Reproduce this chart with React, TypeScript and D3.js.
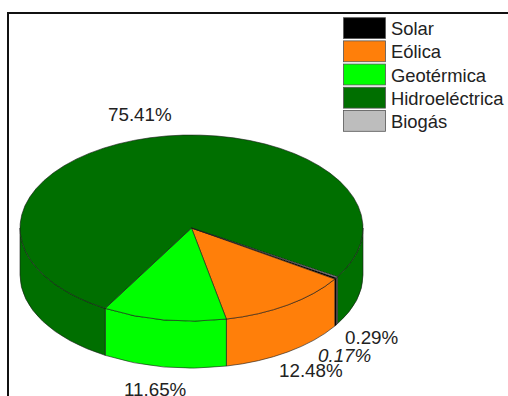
import React from "react";
import * as d3 from "d3";

const categories = ["Solar", "Eólica", "Geotérmica", "Hidroeléctrica", "Biogás"];
const shares = [0.29, 12.48, 11.65, 75.41, 0.17];
const colors = ["#000000", "#ff7f0a", "#00ff00", "#006f00", "#bdbdbd"];
const valueLabels = ["0.29%", "12.48%", "11.65%", "75.41%", "0.17%"];
const labelAnchors: [number, number][] = [
  [345, 344],
  [279, 377],
  [124, 395.5],
  [108, 121],
  [318, 362],
];

const W = 508;
const H = 396;
const cx = 191.5;
const cy = 228;
const rx = 171.5;
const ry = 93;
const depth = 47;
const rad = Math.PI / 180;

const pie = d3
  .pie<number>()
  .sort(null)
  .startAngle(122.3 * rad)
  .endAngle(482.3 * rad);
const slices = pie(shares);

// Angles run clockwise from twelve o'clock; y is squashed to give the tilted disc.
const px = (a: number) => cx + rx * Math.sin(a);
const py = (a: number, drop = 0) => cy - ry * Math.cos(a) + drop;

function topPath(a0: number, a1: number) {
  const large = a1 - a0 > Math.PI ? 1 : 0;
  return `M${cx},${cy}L${px(a0)},${py(a0)}A${rx},${ry} 0 ${large} 1 ${px(a1)},${py(a1)}Z`;
}

// Side wall of one slice, limited to the front half of the rim (90° to 270°).
function wallPaths(a0: number, a1: number) {
  const out: string[] = [];
  for (const k of [0, 1]) {
    const lo = Math.max(a0, Math.PI / 2 + k * 2 * Math.PI);
    const hi = Math.min(a1, (3 * Math.PI) / 2 + k * 2 * Math.PI);
    if (hi <= lo) continue;
    out.push(
      `M${px(lo)},${py(lo)}A${rx},${ry} 0 0 1 ${px(hi)},${py(hi)}` +
        `L${px(hi)},${py(hi, depth)}A${rx},${ry} 0 0 0 ${px(lo)},${py(lo, depth)}Z`
    );
  }
  return out;
}

const legendY = d3
  .scaleBand<string>()
  .domain(categories)
  .range([17, 132])
  .paddingInner(0.1)
  .paddingOuter(0.03);

export default function App() {
  const font = "'Liberation Sans', Arial, sans-serif";
  return (
    <svg
      width={W}
      height={H}
      viewBox={`0 0 ${W} ${H}`}
      style={{ position: "fixed", left: 0, top: 0, display: "block", background: "#fff" }}
      fontFamily={font}
    >
      <path d={`M8,${H}V13H${W}`} fill="none" stroke="#111" strokeWidth={2} />
      <g stroke="#1a1a1a" strokeWidth={0.6} strokeLinejoin="round">
        {slices.map((s, i) =>
          wallPaths(s.startAngle, s.endAngle).map((d, j) => (
            <path key={`w${i}-${j}`} d={d} fill={colors[i]} />
          ))
        )}
        {slices.map((s, i) => (
          <path key={`t${i}`} d={topPath(s.startAngle, s.endAngle)} fill={colors[i]} />
        ))}
      </g>
      {categories.map((c, i) => (
        <g key={c}>
          <rect
            x={343.5}
            y={legendY(c)!}
            width={42}
            height={legendY.bandwidth()}
            fill={colors[i]}
            stroke="#555"
            strokeWidth={0.8}
          />
          <text x={391} y={legendY(c)! + legendY.bandwidth() / 2 + 7} fontSize={18.4} fill="#222">
            {c}
          </text>
        </g>
      ))}
      {valueLabels.map((t, i) => (
        <text
          key={t}
          x={labelAnchors[i][0]}
          y={labelAnchors[i][1]}
          fontSize={18.8}
          fill="#222"
          fontStyle={i === 4 ? "italic" : "normal"}
        >
          {t}
        </text>
      ))}
    </svg>
  );
}
